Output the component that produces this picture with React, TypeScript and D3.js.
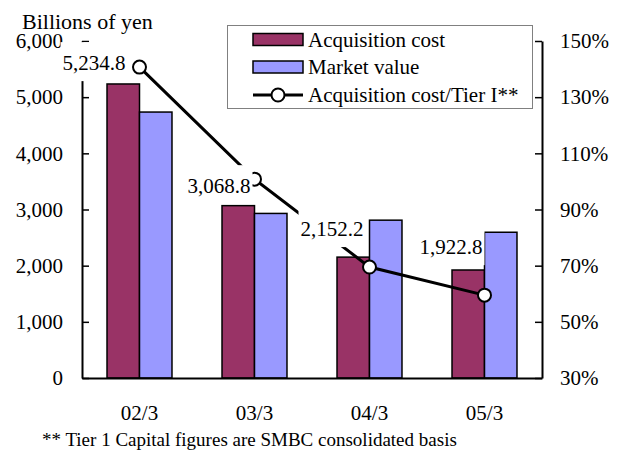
import * as React from "react"
import * as d3 from "d3"

const categories = ["02/3", "03/3", "04/3", "05/3"]
const acquisitionCost = [5234.8, 3068.8, 2152.2, 1922.8]
const marketValue = [4735, 2930, 2810, 2595]
const costToTier1 = [140.7, 100.8, 69.5, 59.5]
const leftTicks = [0, 1000, 2000, 3000, 4000, 5000, 6000]
const rightTicks = [30, 50, 70, 90, 110, 130, 150]

const legendItems = ["Acquisition cost", "Market value", "Acquisition cost/Tier I**"]

// where each value label sits relative to its line point (text right edge, text middle)
const labelOffsets = [
  [-14, -5],
  [-4, 6],
  [-6, -39],
  [-2, -49],
]

const W = 625
const H = 450
const margin = { left: 82, right: 83, top: 41, bottom: 72 }
const FONT = "Liberation Serif, Tinos, Times New Roman, DejaVu Serif, serif"
const COST_COLOR = "#993366"
const MARKET_COLOR = "#9999FF"

export default function App() {
  const svgRef = React.useRef<SVGSVGElement>(null)

  React.useEffect(() => {
    const svg = d3.select(svgRef.current)
    svg.selectAll("*").remove()

    const x0 = margin.left
    const x1 = W - margin.right
    const yTop = margin.top
    const yBot = H - margin.bottom

    const x = d3
      .scaleBand()
      .domain(categories)
      .range([x0, x1])
      .paddingInner(0.435)
      .paddingOuter(0.2175)
    const bw = x.bandwidth() / 2

    const yL = d3.scaleLinear().domain([0, 6000]).range([yBot, yTop])
    const yR = d3.scaleLinear().domain([30, 150]).range([yBot, yTop])

    // title
    svg
      .append("text")
      .attr("x", 22)
      .attr("y", 29)
      .style("font-size", "22px")
      .text("Billions of yen")

    // bars
    const bars = svg.append("g")
    bars
      .selectAll(".cost")
      .data(acquisitionCost)
      .join("rect")
      .attr("x", (_d, i) => x(categories[i]) as number)
      .attr("y", (d) => yL(d))
      .attr("width", bw)
      .attr("height", (d) => yBot - yL(d))
      .attr("fill", COST_COLOR)
      .attr("stroke", "#000")
      .attr("stroke-width", 1.5)
    bars
      .selectAll(".market")
      .data(marketValue)
      .join("rect")
      .attr("x", (_d, i) => (x(categories[i]) as number) + bw)
      .attr("y", (d) => yL(d))
      .attr("width", bw)
      .attr("height", (d) => yBot - yL(d))
      .attr("fill", MARKET_COLOR)
      .attr("stroke", "#000")
      .attr("stroke-width", 1.5)

    // axes
    const leftAxis = svg
      .append("g")
      .attr("transform", `translate(${x0},0)`)
      .call(
        d3
          .axisLeft(yL)
          .tickValues(leftTicks)
          .tickFormat(d3.format(","))
          .tickSizeInner(-7)
          .tickSizeOuter(0)
          .tickPadding(19)
      )
    const rightAxis = svg
      .append("g")
      .attr("transform", `translate(${x1},0)`)
      .call(
        d3
          .axisRight(yR)
          .tickValues(rightTicks)
          .tickFormat((d) => d + "%")
          .tickSizeInner(-7)
          .tickSizeOuter(0)
          .tickPadding(18)
      )
    const bottomAxis = svg
      .append("g")
      .attr("transform", `translate(0,${yBot})`)
      .call(d3.axisBottom(x).tickSize(0).tickPadding(27))

    for (const ax of [leftAxis, rightAxis, bottomAxis]) {
      ax.attr("font-family", null).attr("font-size", null)
      ax.select(".domain").attr("stroke", "#000").attr("stroke-width", 2)
      ax.selectAll(".tick line").attr("stroke", "#000").attr("stroke-width", 1.5)
      ax.selectAll(".tick text").attr("fill", "#000").style("font-size", "21px")
    }

    // ratio line
    const px = (i: number) => (x(categories[i]) as number) + bw
    const line = d3
      .line<number>()
      .x((_d, i) => px(i))
      .y((d) => yR(d))
    svg
      .append("path")
      .datum(costToTier1)
      .attr("d", line)
      .attr("fill", "none")
      .attr("stroke", "#000")
      .attr("stroke-width", 3)
    svg
      .append("g")
      .selectAll("circle")
      .data(costToTier1)
      .join("circle")
      .attr("cx", (_d, i) => px(i))
      .attr("cy", (d) => yR(d))
      .attr("r", 6.5)
      .attr("fill", "#fff")
      .attr("stroke", "#000")
      .attr("stroke-width", 2)

    // value labels with white backing boxes
    const labels = svg.append("g")
    acquisitionCost.forEach((v, i) => {
      const [dx, dy] = labelOffsets[i]
      const tx = px(i) + dx
      const ty = yR(costToTier1[i]) + dy
      const g = labels.append("g")
      const rect = g.append("rect").attr("fill", "#fff")
      const t = g
        .append("text")
        .attr("x", tx)
        .attr("y", ty + 7.5)
        .attr("text-anchor", "end")
        .style("font-size", "21px")
        .text(d3.format(",.1f")(v))
      const bb = (t.node() as SVGTextElement).getBBox()
      rect
        .attr("x", bb.x - 2)
        .attr("y", ty - 20)
        .attr("width", bb.width + 4)
        .attr("height", 39)
    })

    // legend
    const lg = svg.append("g")
    lg.append("rect")
      .attr("x", 227.5)
      .attr("y", 25.5)
      .attr("width", 305)
      .attr("height", 83)
      .attr("fill", "#fff")
      .attr("stroke", "#808080")
      .attr("stroke-width", 1)
    const rowY = [39.5, 67, 95]
    legendItems.forEach((name, i) => {
      if (i < 2) {
        lg.append("rect")
          .attr("x", 253)
          .attr("y", rowY[i] - 6)
          .attr("width", 50)
          .attr("height", 12)
          .attr("fill", i === 0 ? COST_COLOR : MARKET_COLOR)
          .attr("stroke", "#000")
          .attr("stroke-width", 1.5)
      } else {
        lg.append("line")
          .attr("x1", 253)
          .attr("x2", 303)
          .attr("y1", rowY[i])
          .attr("y2", rowY[i])
          .attr("stroke", "#000")
          .attr("stroke-width", 3)
        lg.append("circle")
          .attr("cx", 278)
          .attr("cy", rowY[i])
          .attr("r", 6.5)
          .attr("fill", "#fff")
          .attr("stroke", "#000")
          .attr("stroke-width", 2)
      }
      lg.append("text")
        .attr("x", 308)
        .attr("y", rowY[i] + 7)
        .style("font-size", "21px")
        .text(name)
    })

    // footnote
    svg
      .append("text")
      .attr("x", 42)
      .attr("y", 446)
      .style("font-size", "19px")
      .text("** Tier 1 Capital figures are SMBC consolidated basis")
  }, [])

  return (
    <svg
      ref={svgRef}
      width={W}
      height={H}
      style={{ position: "absolute", left: 0, top: 0, background: "#fff", fontFamily: FONT }}
    />
  )
}
